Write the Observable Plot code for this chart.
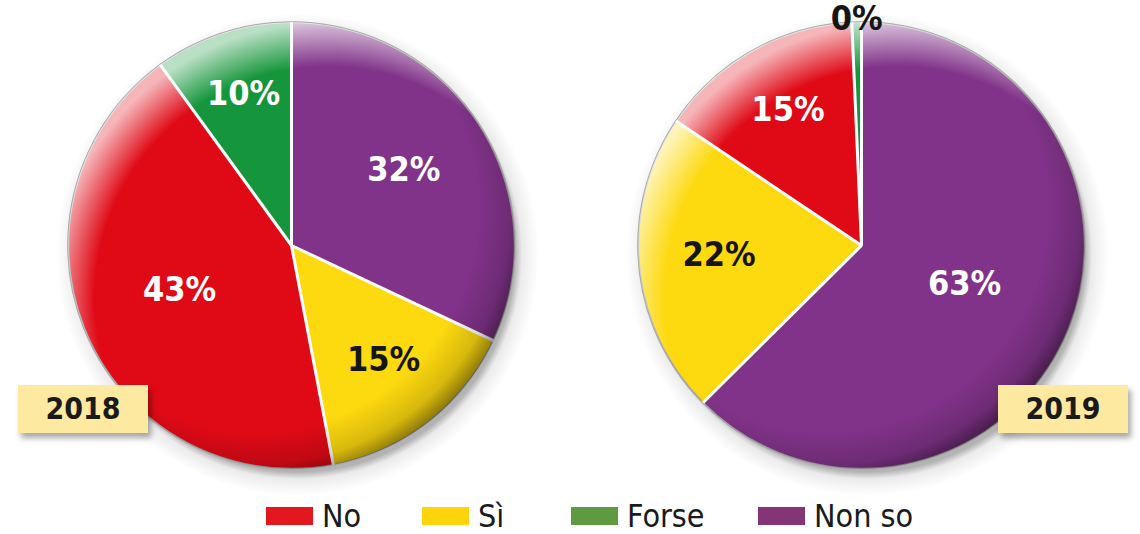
<!DOCTYPE html>
<html><head><meta charset="utf-8">
<script src="https://cdn.jsdelivr.net/npm/d3@7"></script>
<script src="https://cdn.jsdelivr.net/npm/@observablehq/plot@0.6"></script>
<style>
body{margin:0;background:#fff;width:1140px;height:534px;overflow:hidden;position:relative;font-family:"Liberation Sans Narrow","DejaVu Sans Condensed",sans-serif;}
#chart{position:absolute;left:0;top:0;}
.year{position:absolute;top:385px;width:130px;height:48px;background:#fde9a0;box-shadow:3px 5px 6px rgba(0,0,0,0.35);font-weight:bold;font-size:30px;line-height:48px;text-align:center;color:#1a1a1a;}
.legend{position:absolute;top:497px;left:0;width:1140px;height:37px}
.item{position:absolute;top:0;height:37px;display:flex;align-items:center;font-size:32px;color:#1a1a1a}
.sw{width:47px;height:18px;margin-right:9px}
</style></head><body>
<div id="chart"></div>
<div class="year" style="left:18px">2018</div>
<div class="year" style="left:998px">2019</div>
<div class="legend" id="legend"></div>
<script>
// ---- data ----
const years = ["2018", "2019"];
const sliceOrder = ["Non so", "Sì", "No", "Forse"]; // clockwise from 12 o'clock
const values2018 = [32, 15, 43, 10];
const values2019 = [63, 22, 15, 0.7];
const labels2018 = ["32%", "15%", "43%", "10%"];
const labels2019 = ["63%", "22%", "15%", "0%"];
const legendCategories = ["No", "Sì", "Forse", "Non so"];
const pieColors = ["#e00a17", "#fdd90f", "#16963c", "#813389"];
const legendColors = ["#e3171e", "#fdd30b", "#5e9a3f", "#843578"];
const legendLeft = [266, 422, 571, 758];

// ---- geometry built from data ----
const R = 1, HALF = 1.03, FACET_W = 460;
const pxPerUnit = FACET_W / (2 * HALF);
const rPx = pxPerUnit * R;
const pie = d3.pie().sort(null).value(d => d.value);
const wedges = [], seps = [], labels = [];
const centers = years.map(year => ({year}));
years.forEach((year, yi) => {
  const vals = yi === 0 ? values2018 : values2019;
  const labs = yi === 0 ? labels2018 : labels2019;
  const arcs = pie(sliceOrder.map((c, i) => ({category: c, value: vals[i], label: labs[i]})));
  arcs.forEach(a => {
    const category = a.data.category, key = year + category;
    wedges.push({year, category, key, x: 0, y: 0});
    const n = Math.max(2, Math.ceil((a.endAngle - a.startAngle) / 0.01));
    for (let k = 0; k <= n; k++) {
      const t = a.startAngle + (a.endAngle - a.startAngle) * k / n;
      wedges.push({year, category, key, x: R * Math.sin(t), y: R * Math.cos(t)});
    }
    wedges.push({year, category, key, x: 0, y: 0});
    seps.push({year, x: R * Math.sin(a.startAngle), y: R * Math.cos(a.startAngle)});
    const v = a.data.value;
    const mid = (a.startAngle + a.endAngle) / 2;
    const outside = v < 2;
    const lr = outside ? 0.995 : Math.max(0.5, 0.74 - 0.0045 * v);
    labels.push({year, text: a.data.label, x: lr * Math.sin(mid), y: lr * Math.cos(mid),
                 dark: outside || category === "Sì"});
  });
});

const font = '"Liberation Sans Narrow","DejaVu Sans Condensed",sans-serif';
const chart = Plot.plot({
  width: 1140, height: 490,
  marginLeft: 61, marginRight: 49, marginTop: 15, marginBottom: 15,
  fx: {domain: years, axis: null, paddingInner: 110 / 570, paddingOuter: 0, round: false},
  x: {domain: [-HALF, HALF], axis: null},
  y: {domain: [-HALF, HALF], axis: null},
  color: {domain: legendCategories, range: pieColors},
  style: {background: "transparent", overflow: "visible"},
  marks: [
    Plot.dot(centers, {x: () => 0, y: () => 0, fx: "year", r: rPx + 18, dx: 6, dy: 9, fill: "url(#pieShadow)", stroke: "none"}),
    Plot.line(wedges, {x: "x", y: "y", z: "key", fx: "year", fill: "category", stroke: "none", curve: "linear"}),
    Plot.dot(centers, {x: () => 0, y: () => 0, fx: "year", r: rPx, fill: "none", stroke: "#a8a8a8", strokeWidth: 2}),
    Plot.link(seps, {x1: () => 0, y1: () => 0, x2: "x", y2: "y", fx: "year", stroke: "white", strokeWidth: 3}),
    Plot.dot(centers, {x: () => 0, y: () => 0, fx: "year", r: rPx, fill: "url(#rimDark)", stroke: "none"}),
    Plot.dot(centers, {x: () => 0, y: () => 0, fx: "year", r: rPx, fill: "url(#rimLight)", stroke: "none"}),
    Plot.text(labels, {filter: d => !d.dark, x: "x", y: "y", fx: "year", text: "text", fill: "white", dy: -4,
      fontSize: 34, fontWeight: "bold", fontFamily: font}),
    Plot.text(labels, {filter: d => d.dark, x: "x", y: "y", fx: "year", text: "text", fill: "#151515", dy: -4,
      fontSize: 34, fontWeight: "bold", fontFamily: font})
  ]
});

// gradients used by the shading overlays
const defs = d3.select(chart).insert("defs", ":first-child");
const sh = defs.append("radialGradient").attr("id", "pieShadow");
const so = (rPx - 6) / (rPx + 18);
sh.append("stop").attr("offset", so).attr("stop-color", "#000").attr("stop-opacity", 0.3);
sh.append("stop").attr("offset", 0.93).attr("stop-color", "#000").attr("stop-opacity", 0.08);
sh.append("stop").attr("offset", 1).attr("stop-color", "#000").attr("stop-opacity", 0);
const dk = defs.append("radialGradient").attr("id", "rimDark")
  .attr("cx", 0.42).attr("cy", 0.42).attr("fx", 0.42).attr("fy", 0.42).attr("r", 0.62);
dk.append("stop").attr("offset", 0.8).attr("stop-color", "#000").attr("stop-opacity", 0);
dk.append("stop").attr("offset", 0.92).attr("stop-color", "#000").attr("stop-opacity", 0.15);
dk.append("stop").attr("offset", 1).attr("stop-color", "#000").attr("stop-opacity", 0.5);
const lt = defs.append("radialGradient").attr("id", "rimLight")
  .attr("cx", 0.58).attr("cy", 0.62).attr("fx", 0.58).attr("fy", 0.62).attr("r", 0.62);
lt.append("stop").attr("offset", 0.84).attr("stop-color", "#fff").attr("stop-opacity", 0);
lt.append("stop").attr("offset", 1).attr("stop-color", "#fff").attr("stop-opacity", 0.7);

document.getElementById("chart").appendChild(chart);

// legend
const leg = document.getElementById("legend");
legendCategories.forEach((c, i) => {
  const it = document.createElement("div");
  it.className = "item";
  it.style.left = legendLeft[i] + "px";
  it.innerHTML = `<span class="sw" style="background:${legendColors[i]}"></span><span>${c}</span>`;
  leg.appendChild(it);
});
</script>
</body></html>
